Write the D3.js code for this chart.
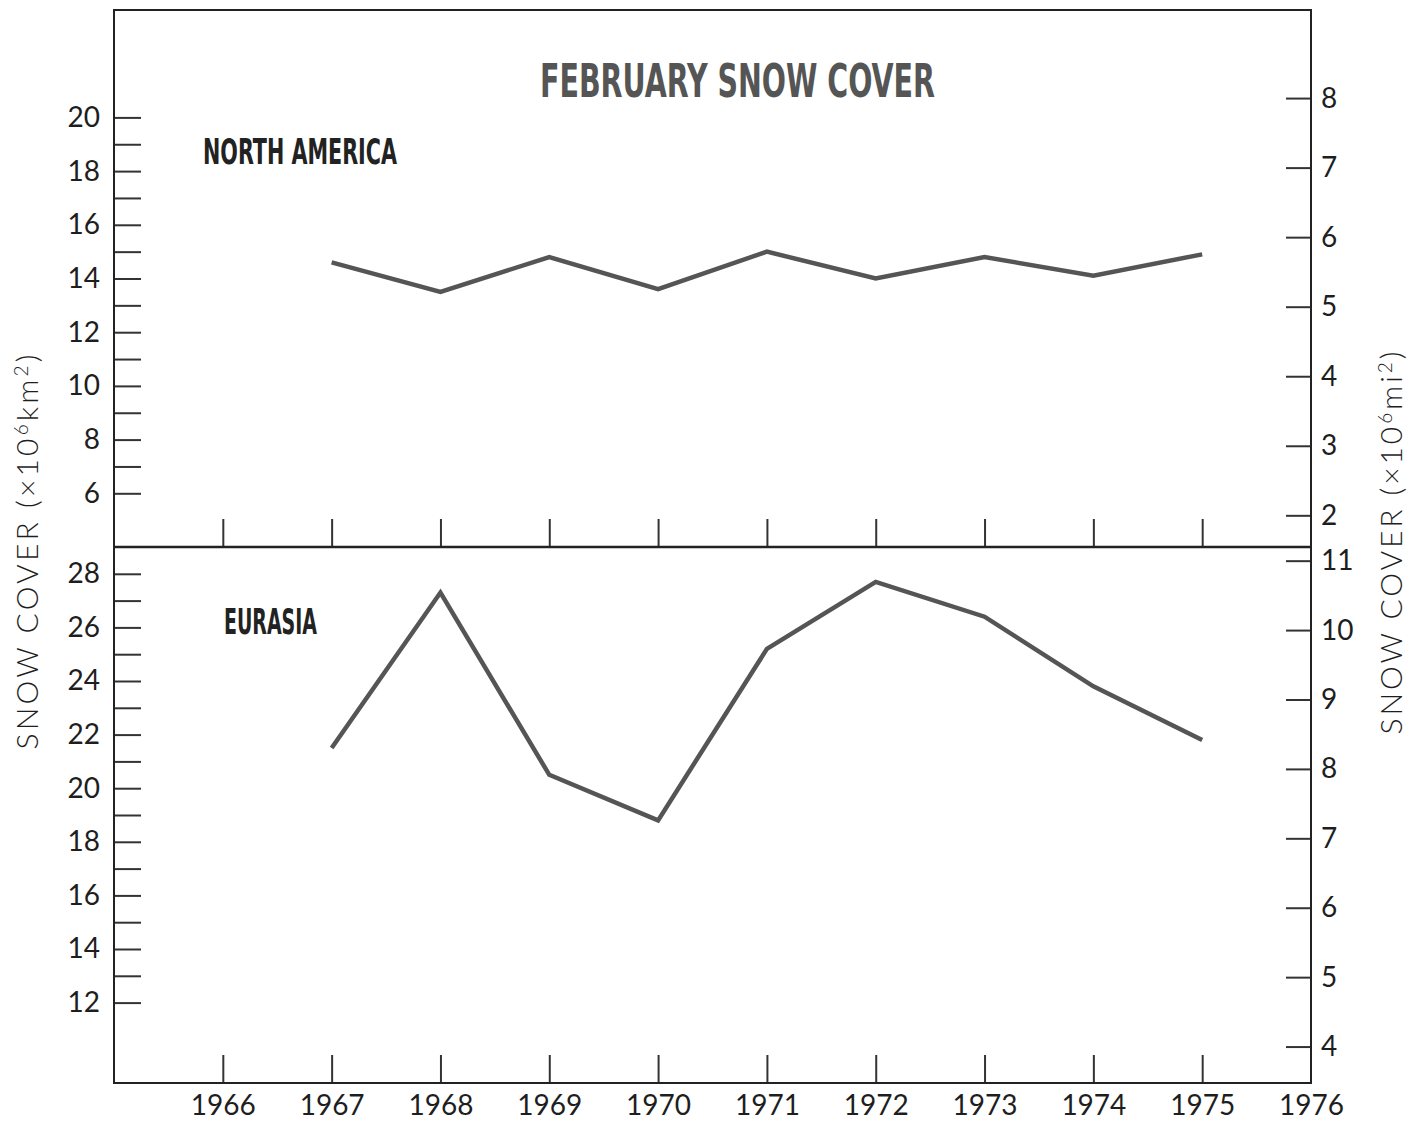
<!DOCTYPE html>
<html>
<head>
<meta charset="utf-8">
<script src="https://cdn.jsdelivr.net/npm/d3@7"></script>
<style>
  html, body { margin: 0; padding: 0; background: #fff; }
  svg { display: block; }
  .tick text { font-family: "Lato", "DejaVu Sans", sans-serif; font-weight: 400; fill: #1e1e1e; }
</style>
</head>
<body>
<svg id="chart" width="1425" height="1125"></svg>
<script>
// February snow cover, 10^6 km^2
const years = [1967, 1968, 1969, 1970, 1971, 1972, 1973, 1974, 1975];
const northAmerica = [14.6, 13.5, 14.8, 13.6, 15.0, 14.0, 14.8, 14.1, 14.9];
const eurasia = [21.5, 27.3, 20.5, 18.8, 25.2, 27.7, 26.4, 23.8, 21.8];

// axis ticks
const yearTicks = [1966, 1967, 1968, 1969, 1970, 1971, 1972, 1973, 1974, 1975];
const yearLabels = [1966, 1967, 1968, 1969, 1970, 1971, 1972, 1973, 1974, 1975, 1976];
const naKmTicks = [6, 7, 8, 9, 10, 11, 12, 13, 14, 15, 16, 17, 18, 19, 20];
const euKmTicks = [12, 13, 14, 15, 16, 17, 18, 19, 20, 21, 22, 23, 24, 25, 26, 27, 28];
const naMiTicks = [2, 3, 4, 5, 6, 7, 8];
const euMiTicks = [4, 5, 6, 7, 8, 9, 10, 11];
const KM2_PER_MI2 = 2.59;

const svg = d3.select("#chart");
const frameLeft = 114, frameRight = 1311, frameTop = 10, frameMid = 547, frameBottom = 1083;
const ink = "#222";
const lineInk = "#555";

const x = d3.scaleLinear().domain([1965, 1976]).range([frameLeft, frameRight]);
const yNA = d3.scaleLinear().domain([4, 24]).range([frameMid, frameTop]);
const yEU = d3.scaleLinear().domain([9, 29]).range([frameBottom, frameMid]);
const yNAmi = d3.scaleLinear().domain(yNA.domain().map(v => v / KM2_PER_MI2)).range(yNA.range());
const yEUmi = d3.scaleLinear().domain(yEU.domain().map(v => v / KM2_PER_MI2)).range(yEU.range());

function styleAxis(g, fontSize) {
  g.select(".domain").remove();
  g.selectAll(".tick line").attr("stroke", "#333").attr("stroke-width", 2);
  g.selectAll(".tick text").attr("font-size", fontSize);
}

// left km^2 axes (labels on even values)
[[yNA, naKmTicks], [yEU, euKmTicks]].forEach(([s, t]) => {
  const g = svg.append("g").attr("transform", `translate(${frameLeft},0)`)
    .call(d3.axisLeft(s).tickValues(t).tickSize(-27).tickPadding(14)
      .tickFormat(d => d % 2 === 0 ? d : ""));
  styleAxis(g, 28);
});

// right mi^2 axes
[[yNAmi, naMiTicks], [yEUmi, euMiTicks]].forEach(([s, t]) => {
  const g = svg.append("g").attr("transform", `translate(${frameRight},0)`)
    .call(d3.axisRight(s).tickValues(t).tickSize(-25).tickPadding(10).tickFormat(d3.format("d")));
  styleAxis(g, 28);
});

// year ticks rising from each panel floor
const xTop = svg.append("g").attr("transform", `translate(0,${frameMid})`)
  .call(d3.axisBottom(x).tickValues(yearTicks).tickSize(-28).tickFormat(""));
styleAxis(xTop, 28);
const xBot = svg.append("g").attr("transform", `translate(0,${frameBottom})`)
  .call(d3.axisBottom(x).tickValues(yearTicks).tickSize(-28).tickFormat(""));
styleAxis(xBot, 28);
const xLab = svg.append("g").attr("transform", `translate(0,${frameBottom})`)
  .call(d3.axisBottom(x).tickValues(yearLabels).tickSize(0).tickPadding(12).tickFormat(d3.format("d")));
styleAxis(xLab, 28);

// frame and panel divider
svg.append("rect").attr("x", frameLeft).attr("y", frameTop)
  .attr("width", frameRight - frameLeft).attr("height", frameBottom - frameTop)
  .attr("fill", "none").attr("stroke", ink).attr("stroke-width", 2);
svg.append("line").attr("x1", frameLeft).attr("x2", frameRight).attr("y1", frameMid).attr("y2", frameMid)
  .attr("stroke", ink).attr("stroke-width", 2.5);

// series lines
const lineNA = d3.line().x((d, i) => x(years[i])).y(d => yNA(d));
const lineEU = d3.line().x((d, i) => x(years[i])).y(d => yEU(d));
svg.append("path").datum(northAmerica).attr("d", lineNA)
  .attr("fill", "none").attr("stroke", lineInk).attr("stroke-width", 4.5).attr("stroke-linejoin", "miter");
svg.append("path").datum(eurasia).attr("d", lineEU)
  .attr("fill", "none").attr("stroke", lineInk).attr("stroke-width", 4.5).attr("stroke-linejoin", "miter");

// title and panel labels
const condensed = '"Liberation Sans Narrow", "DejaVu Sans Condensed", "Liberation Sans", sans-serif';
svg.append("text").attr("x", 540).attr("y", 97)
  .attr("font-family", condensed).attr("font-weight", "bold").attr("font-size", 46)
  .attr("fill", "#555").attr("textLength", 395).attr("lengthAdjust", "spacingAndGlyphs")
  .text("FEBRUARY SNOW COVER");
svg.append("text").attr("x", 203).attr("y", 164)
  .attr("font-family", condensed).attr("font-weight", "bold").attr("font-size", 35)
  .attr("fill", ink).attr("textLength", 194).attr("lengthAdjust", "spacingAndGlyphs")
  .text("NORTH AMERICA");
svg.append("text").attr("x", 224).attr("y", 634)
  .attr("font-family", condensed).attr("font-weight", "bold").attr("font-size", 35)
  .attr("fill", ink).attr("textLength", 93).attr("lengthAdjust", "spacingAndGlyphs")
  .text("EURASIA");

// rotated axis titles
function axisTitle(cx, cy, len, unit) {
  const t = svg.append("text")
    .attr("transform", `translate(${cx},${cy}) rotate(-90)`)
    .attr("text-anchor", "middle")
    .attr("font-family", '"Lato", "DejaVu Sans", sans-serif').attr("font-weight", 300)
    .attr("font-size", 30).attr("fill", "#1e1e1e")
    .attr("textLength", len).attr("lengthAdjust", "spacing");
  t.append("tspan").text("SNOW COVER (\u00d710");
  t.append("tspan").attr("font-size", 19).attr("baseline-shift", "10").text("6");
  t.append("tspan").text(unit);
  t.append("tspan").attr("font-size", 19).attr("baseline-shift", "10").text("2");
  t.append("tspan").text(")");
}
axisTitle(38, 552, 395, "km");
axisTitle(1402, 543, 383, "mi");
</script>
</body>
</html>
